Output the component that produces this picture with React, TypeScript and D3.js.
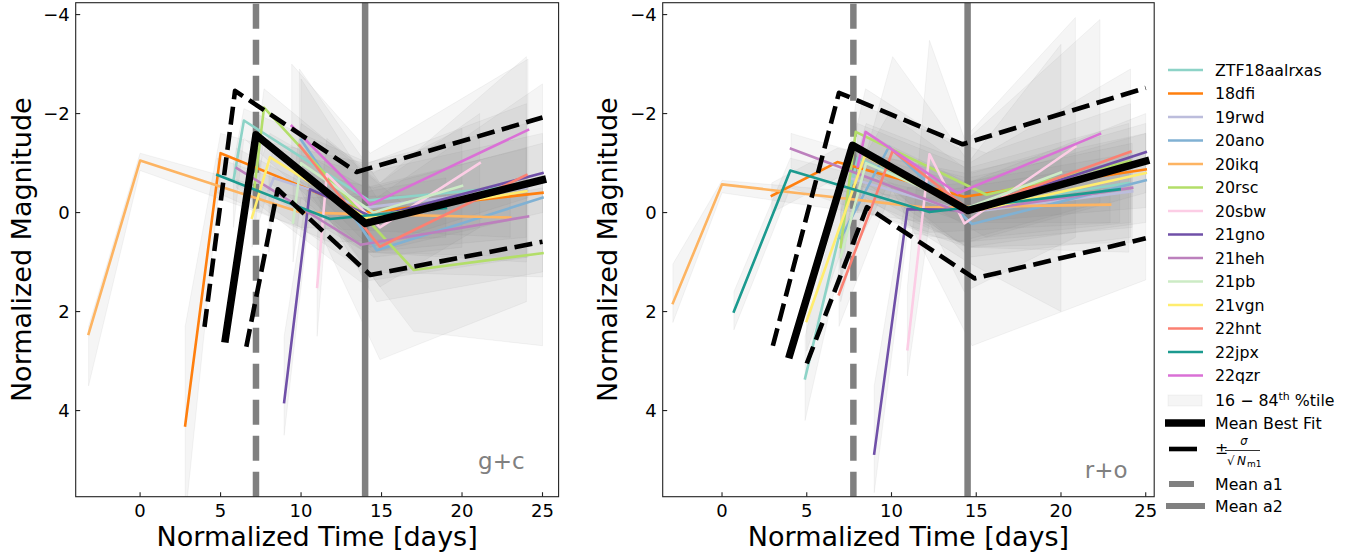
import React from 'react';
import * as d3 from 'd3';

const NAMES = ['ZTF18aalrxas', '18dfi', '19rwd', '20ano', '20ikq', '20rsc', '20sbw', '21gno', '21heh', '21pb', '21vgn', '22hnt', '22jpx', '22qzr'];
const COLORS = ['#8dd3c7', '#ff7f0e', '#bcbddc', '#80b1d3', '#fdb462', '#b3de69', '#fccde5', '#7050a8', '#bc80bd', '#ccebc5', '#ffed6f', '#fb8072', '#1b9a8f', '#da70d6'];

const X_TICKS = [0, 5, 10, 15, 20, 25];
const Y_TICKS = [-4, -2, 0, 2, 4];

// ---- g+c panel: per object times, magnitudes, 16th/84th percentile band ----
const GC_T = [
  [5.8, 6.45, 14.2, 24], [2.8, 5.0, 14, 25], [8.0, 8.3, 14, 24], [10.0, 14.7, 25],
  [-3.2, 0, 10, 23], [7.1, 7.7, 17, 25], [11.0, 11.6, 14.9, 21.1], [8.95, 10.56, 14.5, 25],
  [6.0, 13.7, 24.1], [9.5, 10.0, 14.5, 20], [6.95, 8.07, 14, 24], [9.9, 14.9, 24],
  [4.8, 11.8, 19], [9.42, 14.3, 24.1],
];
const GC_M = [
  [-0.65, -1.86, -0.25, -0.55], [4.3, -1.2, 0.0, -0.4], [-0.45, -0.7, -0.1, -0.5], [-1.47, 0.76, -0.3],
  [2.45, -1.05, 0.0, 0.1], [-0.5, -2.12, 1.16, 0.82], [1.5, -0.78, 0.3, -1.0], [3.83, -0.47, 0.1, -0.8],
  [-0.9, 0.65, 0.08], [0.2, -1.0, 0.0, -0.54], [0.1, -1.12, 0.1, -0.43], [-1.36, 0.69, -0.76],
  [-0.76, 0.13, -0.09], [-1.75, -0.16, -1.67],
];
const GC_HI = [
  [-1.0, -2.1, -1.0, -2.2], [2.3, -1.6, -0.8, -1.6], [-0.8, -1.4, -1.0, -1.8], [-2.7, -0.3, -2.6],
  [2.3, -1.2, -0.3, -0.4], [-1.0, -2.5, 0.0, -0.5], [0.5, -1.5, -0.6, -2.0], [2.5, -0.8, -0.5, -1.4],
  [-1.3, 0.0, -0.7], [-0.6, -1.8, -0.8, -1.7], [-0.5, -1.6, -0.5, -1.3], [-2.9, -0.6, -3.15],
  [-1.1, -0.3, -0.7], [-3.0, -1.2, -3.1],
];
const GC_LO = [
  [0.3, -1.5, 0.8, 0.9], [6.2, -0.8, 1.2, 1.3], [0.8, -0.3, 0.8, 1.0], [-0.9, 1.8, 1.2],
  [3.5, -0.85, 0.3, 0.5], [0.5, -1.6, 2.4, 2.69], [2.5, 0.0, 1.5, 0.3], [4.5, -0.1, 0.8, 0.0],
  [-0.5, 1.4, 0.9], [1.0, -0.3, 0.9, 0.7], [0.7, -0.6, 0.8, 0.5], [-0.5, 2.97, 1.8],
  [-0.4, 0.6, 0.5], [-0.9, 0.7, -0.3],
];
const GC_MEAN_T = [5.3, 7.2, 14.0, 25];
const GC_MEAN_M = [2.55, -1.57, 0.22, -0.66];
const GC_UP_T = [4.0, 5.9, 13.45, 25];
const GC_UP_M = [2.31, -2.46, -0.82, -1.92];
const GC_LOW_T = [6.6, 8.55, 14.3, 25];
const GC_LOW_M = [2.71, -0.47, 1.26, 0.59];
const GC_A1 = 7.2;
const GC_A2 = 13.98;

// ---- r+o panel ----
const RO_T = [
  [4.9, 8.0, 14.5, 24], [2.94, 6.8, 14.3, 25], [7.5, 14.5, 24.2], [7.0, 9.85, 14.75, 25],
  [-2.9, 0, 12, 22.9], [7.0, 7.89, 15.6, 24.1], [10.94, 12.24, 14.3, 20.85], [8.98, 10.94, 14.5, 25],
  [4.07, 14.1, 24.2], [7.0, 8.5, 14.5, 20], [4.99, 8.43, 14.5, 25], [6.9, 10.07, 14.6, 24.1],
  [0.7, 4.03, 12.24, 23.46], [8.0, 8.47, 13.9, 22.3],
];
const RO_M = [
  [3.35, -1.1, -0.1, -0.6], [-0.34, -1.02, -0.32, -0.87], [-0.7, 0.0, -0.43], [0.52, -1.33, 0.23, -0.65],
  [1.83, -0.57, -0.1, -0.16], [0.7, -1.63, -0.36, -1.04], [2.76, -1.18, 0.22, -1.33], [4.87, -0.07, -0.05, -1.22],
  [-1.29, 0.0, -0.5], [0.9, -1.0, -0.1, -0.81], [2.19, -1.15, 0.0, -0.8], [1.65, -1.25, -0.05, -1.23],
  [2.0, -0.85, -0.01, -0.47], [-0.93, -1.63, -0.39, -1.59],
];
const RO_HI = [
  [2.5, -1.8, -0.9, -1.8], [-0.6, -1.3, -0.8, -1.6], [-1.3, -0.7, -1.4], [-0.3, -2.0, -0.8, -1.8],
  [1.04, -0.65, -0.3, -0.5], [0.0, -2.2, -1.2, -2.2], [1.5, -3.48, -1.5, -3.94], [3.5, -0.5, -0.6, -2.0],
  [-1.6, -0.6, -1.2], [0.0, -1.8, -1.0, -3.4], [1.5, -1.6, -0.6, -1.6], [0.8, -3.15, -1.0, -2.9],
  [1.6, -1.1, -0.4, -1.0], [-1.8, -2.5, -1.3, -3.9],
];
const RO_LO = [
  [4.2, -0.5, 0.7, 0.8], [0.0, -0.7, 0.2, -0.1], [-0.1, 0.7, 0.6], [1.3, -0.6, 2.69, 1.36],
  [2.22, -0.4, 0.2, 0.2], [1.5, -1.0, 0.5, 0.2], [3.3, 0.2, 1.6, 0.5], [5.66, 0.4, 0.6, -0.4],
  [-0.9, 0.6, 0.3], [1.8, -0.3, 1.0, 2.0], [2.8, -0.6, 0.7, 0.2], [2.3, -0.5, 0.9, 0.5],
  [2.37, -0.5, 0.4, 0.2], [0.0, -0.9, 0.6, -0.2],
];
const RO_MEAN_T = [4.0, 7.7, 14.5, 25];
const RO_MEAN_M = [2.87, -1.36, -0.04, -1.04];
const RO_UP_T = [3.0, 6.9, 14.2, 25];
const RO_UP_M = [2.69, -2.42, -1.38, -2.52];
const RO_LOW_T = [5.0, 8.55, 14.9, 25];
const RO_LOW_M = [3.05, -0.11, 1.33, 0.52];
const RO_A1 = 7.75;
const RO_A2 = 14.49;

const FONT = 'DejaVu Sans, sans-serif';
const GRAY = '#808080';

type PanelProps = {
  id: string;
  xDomain: [number, number];
  xRange: [number, number];
  T: number[][]; M: number[][]; HI: number[][]; LO: number[][];
  meanT: number[]; meanM: number[]; upT: number[]; upM: number[]; lowT: number[]; lowM: number[];
  a1: number; a2: number;
  label: string; labelX: number; labelY: number;
  ylabelX: number;
};

const Y_DOMAIN: [number, number] = [-4.24, 5.74];
const Y_RANGE: [number, number] = [2.7, 496.7];

function Panel(p: PanelProps) {
  const x = d3.scaleLinear().domain(p.xDomain).range(p.xRange);
  const y = d3.scaleLinear().domain(Y_DOMAIN).range(Y_RANGE);
  const [x0, x1] = p.xRange;
  const [y0, y1] = Y_RANGE;
  const line = (ts: number[], ms: number[]) =>
    d3.line<number>().x((_, i) => x(ts[i])).y((d) => y(d))(ms) || '';
  const area = (ts: number[], lo: number[], hi: number[]) =>
    d3.area<number>().x((_, i) => x(ts[i])).y0((_, i) => y(lo[i])).y1((_, i) => y(hi[i]))(ts) || '';
  const clip = `clip-${p.id}`;
  return (
    <g>
      <defs>
        <clipPath id={clip}>
          <rect x={x0} y={y0} width={x1 - x0} height={y1 - y0} />
        </clipPath>
      </defs>
      <g clipPath={`url(#${clip})`}>
        {p.T.map((ts, i) => (
          <path key={'b' + i} d={area(ts, p.LO[i], p.HI[i])} fill={GRAY} fillOpacity={0.08}
            stroke={GRAY} strokeOpacity={0.08} strokeWidth={1} />
        ))}
        <line x1={x(p.a2)} x2={x(p.a2)} y1={y1} y2={y0} stroke={GRAY} strokeWidth={6.5} />
        <line x1={x(p.a1)} x2={x(p.a1)} y1={y1} y2={y0} stroke={GRAY} strokeWidth={6.5} strokeDasharray="25 11" />
        {p.T.map((ts, i) => (
          <path key={'l' + i} d={line(ts, p.M[i])} fill="none" stroke={COLORS[i]} strokeWidth={2.6}
            strokeLinejoin="round" strokeLinecap="square" />
        ))}
        <path d={line(p.meanT, p.meanM)} fill="none" stroke="#000" strokeWidth={7.5} strokeLinejoin="round" strokeLinecap="square" />
        <path d={line(p.upT, p.upM)} fill="none" stroke="#000" strokeWidth={4.6} strokeDasharray="18 7.5" strokeLinejoin="round" />
        <path d={line(p.lowT, p.lowM)} fill="none" stroke="#000" strokeWidth={4.6} strokeDasharray="18 7.5" strokeLinejoin="round" />
      </g>
      <rect x={x0} y={y0} width={x1 - x0} height={y1 - y0} fill="none" stroke="#222" strokeWidth={1.1} />
      {X_TICKS.map((t) => (
        <g key={'xt' + t}>
          <line x1={x(t)} x2={x(t)} y1={y1} y2={y1 - 4.5} stroke="#222" strokeWidth={1.1} />
          <text x={x(t)} y={517} textAnchor="middle" fontFamily={FONT} fontSize={18} fill="#000">{t}</text>
        </g>
      ))}
      {Y_TICKS.map((t) => (
        <g key={'yt' + t}>
          <line x1={x0} x2={x0 + 4.5} y1={y(t)} y2={y(t)} stroke="#222" strokeWidth={1.1} />
          <text x={x0 - 6} y={y(t) + 6.5} textAnchor="end" fontFamily={FONT} fontSize={18} fill="#000">
            {t < 0 ? '\u2212' + Math.abs(t) : String(t)}
          </text>
        </g>
      ))}
      <text x={(x0 + x1) / 2} y={546} textAnchor="middle" fontFamily={FONT} fontSize={27} fill="#000">
        Normalized Time [days]
      </text>
      <text transform={`translate(${p.ylabelX},${(y0 + y1) / 2}) rotate(-90)`} textAnchor="middle"
        fontFamily={FONT} fontSize={27} fill="#000">Normalized Magnitude</text>
      <text x={p.labelX} y={p.labelY} textAnchor="end" fontFamily={FONT} fontSize={23} fill={GRAY}>{p.label}</text>
    </g>
  );
}

function Legend() {
  const lx0 = 1168, lx1 = 1203, tx = 1215;
  const rowY = (i: number) => 70 + i * 23.5;
  return (
    <g fontFamily={FONT} fontSize={15.8} fill="#000">
      {NAMES.map((n, i) => (
        <g key={n}>
          <line x1={lx0} x2={lx1} y1={rowY(i)} y2={rowY(i)} stroke={COLORS[i]} strokeWidth={2.6} />
          <text x={tx} y={rowY(i) + 5.7}>{n}</text>
        </g>
      ))}
      <rect x={1168} y={395} width={34} height={11} fill={GRAY} fillOpacity={0.08} stroke={GRAY} strokeOpacity={0.08} />
      <text x={tx} y={405.5}>
        16 {'\u2212'} 84<tspan fontSize={11} dy={-6}>th</tspan><tspan dy={6}> %tile</tspan>
      </text>
      <line x1={1165} x2={1205} y1={423} y2={423} stroke="#000" strokeWidth={7.5} />
      <text x={tx} y={428.7}>Mean Best Fit</text>
      <line x1={1169} x2={1197} y1={449} y2={449} stroke="#000" strokeWidth={4.6} />
      <text x={tx} y={454}>{'\u00b1'}</text>
      <text x={1244} y={445} fontSize={11.5} fontStyle="italic" textAnchor="middle">{'\u03c3'}</text>
      <line x1={1225} x2={1260} y1={450.5} y2={450.5} stroke="#000" strokeWidth={0.8} />
      <text x={1227} y={465} fontSize={12}>{'\u221a'}</text>
      <text x={1237} y={464.5} fontSize={12} fontStyle="italic">N</text>
      <text x={1247} y={466.5} fontSize={9}>m1</text>
      <line x1={1169} x2={1194} y1={484} y2={484} stroke={GRAY} strokeWidth={6} />
      <text x={tx} y={489.7}>Mean a1</text>
      <line x1={1166} x2={1205} y1={506} y2={506} stroke={GRAY} strokeWidth={6} />
      <text x={tx} y={511.7}>Mean a2</text>
    </g>
  );
}

export default function App() {
  return (
    <svg width={1354} height={556} viewBox="0 0 1354 556"
      style={{ position: 'absolute', left: 0, top: 0, background: '#fff' }}>
      <rect x={0} y={0} width={1354} height={556} fill="#fff" />
      <Panel id="gc" xDomain={[-4, 26]} xRange={[75.7, 558.6]}
        T={GC_T} M={GC_M} HI={GC_HI} LO={GC_LO}
        meanT={GC_MEAN_T} meanM={GC_MEAN_M} upT={GC_UP_T} upM={GC_UP_M} lowT={GC_LOW_T} lowM={GC_LOW_M}
        a1={GC_A1} a2={GC_A2} label="g+c" labelX={524.6} labelY={469} ylabelX={31} />
      <Panel id="ro" xDomain={[-3.5, 25.5]} xRange={[662.7, 1154.2]}
        T={RO_T} M={RO_M} HI={RO_HI} LO={RO_LO}
        meanT={RO_MEAN_T} meanM={RO_MEAN_M} upT={RO_UP_T} upM={RO_UP_M} lowT={RO_LOW_T} lowM={RO_LOW_M}
        a1={RO_A1} a2={RO_A2} label="r+o" labelX={1127.6} labelY={478} ylabelX={617} />
      <Legend />
    </svg>
  );
}
